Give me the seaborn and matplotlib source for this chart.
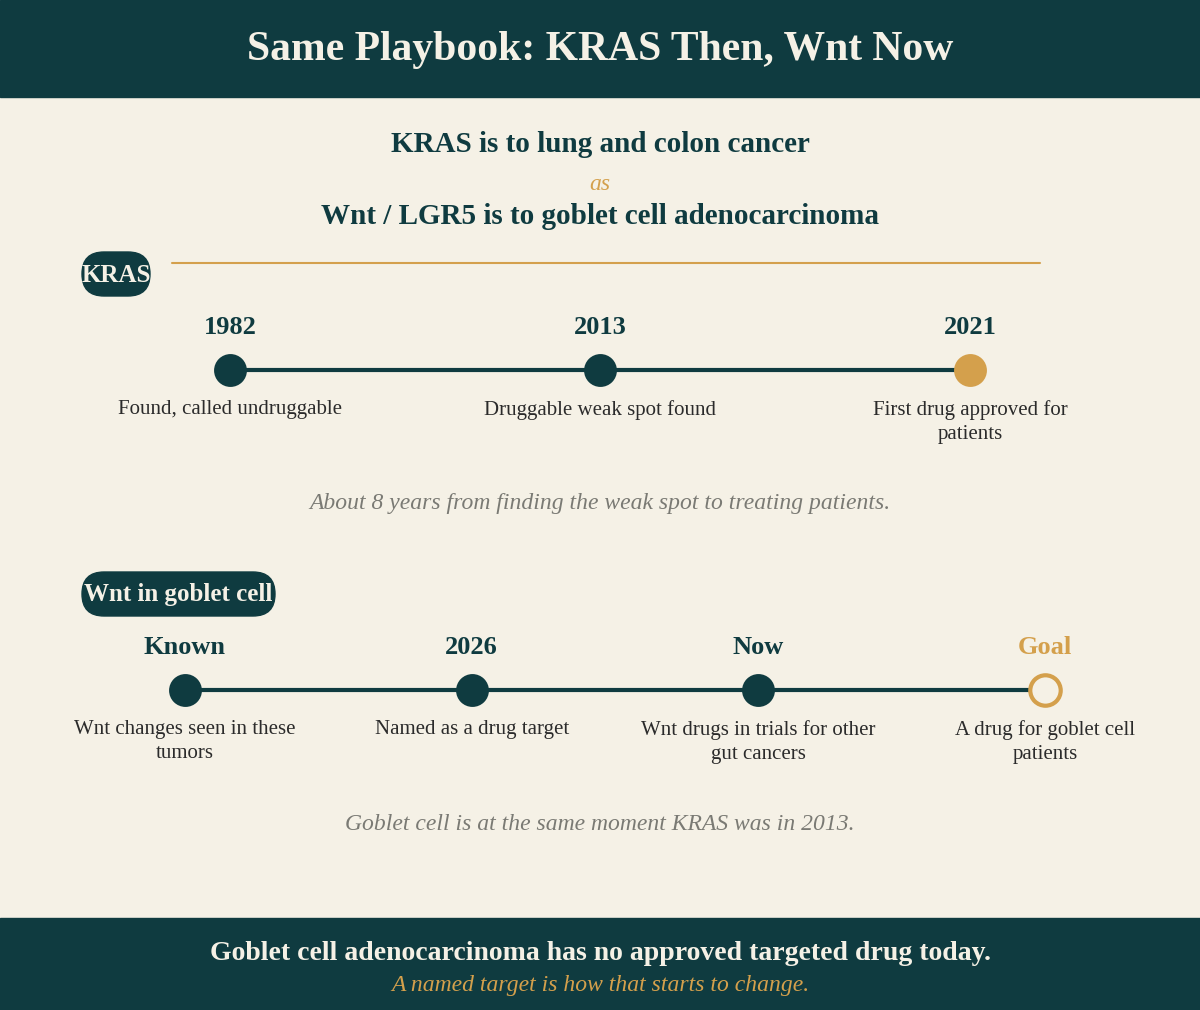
import numpy as np
import pandas as pd
import matplotlib.pyplot as plt
import seaborn as sns
from matplotlib.patches import Rectangle, FancyBboxPatch

# Colours
DARK = "#0f3b40"
CREAM = "#f5f1e6"
GOLD = "#d4a04c"
GRAY = "#7a7a74"
TEXT = "#2b2b2b"

# Data
kras_years = ["1982", "2013", "2021"]
kras_desc = ["Found, called undruggable", "Druggable weak spot found",
             "First drug approved for\npatients"]
kras_done = [True, True, False]

wnt_steps = ["Known", "2026", "Now", "Goal"]
wnt_desc = ["Wnt changes seen in these\ntumors", "Named as a drug target",
            "Wnt drugs in trials for other\ngut cancers", "A drug for goblet cell\npatients"]

sns.set_theme(style="white")
plt.rcParams["font.family"] = ["Liberation Serif", "DejaVu Serif"]

fig = plt.figure(figsize=(12, 10.1), dpi=100, facecolor=CREAM)
ax = fig.add_axes([0, 0, 1, 1])
ax.set_xlim(0, 1200)
ax.set_ylim(1010, 0)
ax.axis("off")
ax.set_facecolor(CREAM)

# header / footer bands
ax.add_patch(Rectangle((0, 0), 1200, 97, color=DARK, zorder=0))
ax.add_patch(Rectangle((0, 918), 1200, 92, color=DARK, zorder=0))
ax.text(600, 50, "Same Playbook: KRAS Then, Wnt Now", ha="center", va="center",
        color=CREAM, fontsize=30, fontweight="bold")
ax.text(600, 953, "Goblet cell adenocarcinoma has no approved targeted drug today.",
        ha="center", va="center", color=CREAM, fontsize=20, fontweight="bold")
ax.text(600, 985, "A named target is how that starts to change.", ha="center",
        va="center", color=GOLD, fontsize=17, style="italic")

# subtitle
ax.text(600, 145, "KRAS is to lung and colon cancer", ha="center", va="center",
        color=DARK, fontsize=21, fontweight="bold")
ax.text(600, 184, "as", ha="center", va="center", color=GOLD, fontsize=17, style="italic")
ax.text(600, 217, "Wnt / LGR5 is to goblet cell adenocarcinoma", ha="center",
        va="center", color=DARK, fontsize=21, fontweight="bold")


def pill(x0, x1, yc, label):
    ax.add_patch(FancyBboxPatch((x0 + 22, yc - 22), x1 - x0 - 44, 44,
                                boxstyle="round,pad=0,rounding_size=22",
                                mutation_aspect=1, color=DARK, zorder=3))
    ax.text((x0 + x1) / 2, yc + 1, label, ha="center", va="center", color=CREAM,
            fontsize=18, fontweight="bold", zorder=4)


# KRAS section
pill(60, 172, 274, "KRAS")
ax.plot([172, 1040], [263, 263], color=GOLD, lw=1.5, zorder=1)
kx = np.linspace(230, 970, len(kras_years))
kdf = pd.DataFrame({"x": kx, "y": 370.0})
sns.lineplot(data=kdf, x="x", y="y", color=DARK, lw=3, ax=ax, zorder=2)
for x, yr, d, done in zip(kx, kras_years, kras_desc, kras_done):
    c = DARK if done else GOLD
    sns.scatterplot(x=[x], y=[370], s=480, color=c, edgecolor=c, ax=ax, zorder=3)
    ax.text(x, 328, yr, ha="center", va="center", color=DARK, fontsize=19, fontweight="bold")
    ax.text(x, 400, d, ha="center", va="top", color=TEXT, fontsize=15, linespacing=1.35)
ax.text(600, 504, "About 8 years from finding the weak spot to treating patients.",
        ha="center", va="center", color=GRAY, fontsize=17, style="italic")

# Wnt section
pill(60, 297, 594, "Wnt in goblet cell")
wx = np.linspace(185, 1045, len(wnt_steps))
wdf = pd.DataFrame({"x": wx, "y": 690.0})
sns.lineplot(data=wdf, x="x", y="y", color=DARK, lw=3, ax=ax, zorder=2)
for i, (x, st, d) in enumerate(zip(wx, wnt_steps, wnt_desc)):
    goal = i == len(wnt_steps) - 1
    if goal:
        sns.scatterplot(x=[x], y=[690], s=480, color=CREAM, edgecolor=GOLD,
                        linewidth=3, ax=ax, zorder=3)
    else:
        sns.scatterplot(x=[x], y=[690], s=480, color=DARK, edgecolor=DARK, ax=ax, zorder=3)
    ax.text(x, 648, st, ha="center", va="center", color=GOLD if goal else DARK,
            fontsize=19, fontweight="bold")
    ax.text(x, 720, d, ha="center", va="top", color=TEXT, fontsize=15, linespacing=1.35)
ax.text(600, 824, "Goblet cell is at the same moment KRAS was in 2013.",
        ha="center", va="center", color=GRAY, fontsize=17, style="italic")

ax.set_xlim(0, 1200)
ax.set_ylim(1010, 0)
ax.set_xlabel("")
ax.set_ylabel("")
fig.savefig("out.png", dpi=100, facecolor=CREAM)
